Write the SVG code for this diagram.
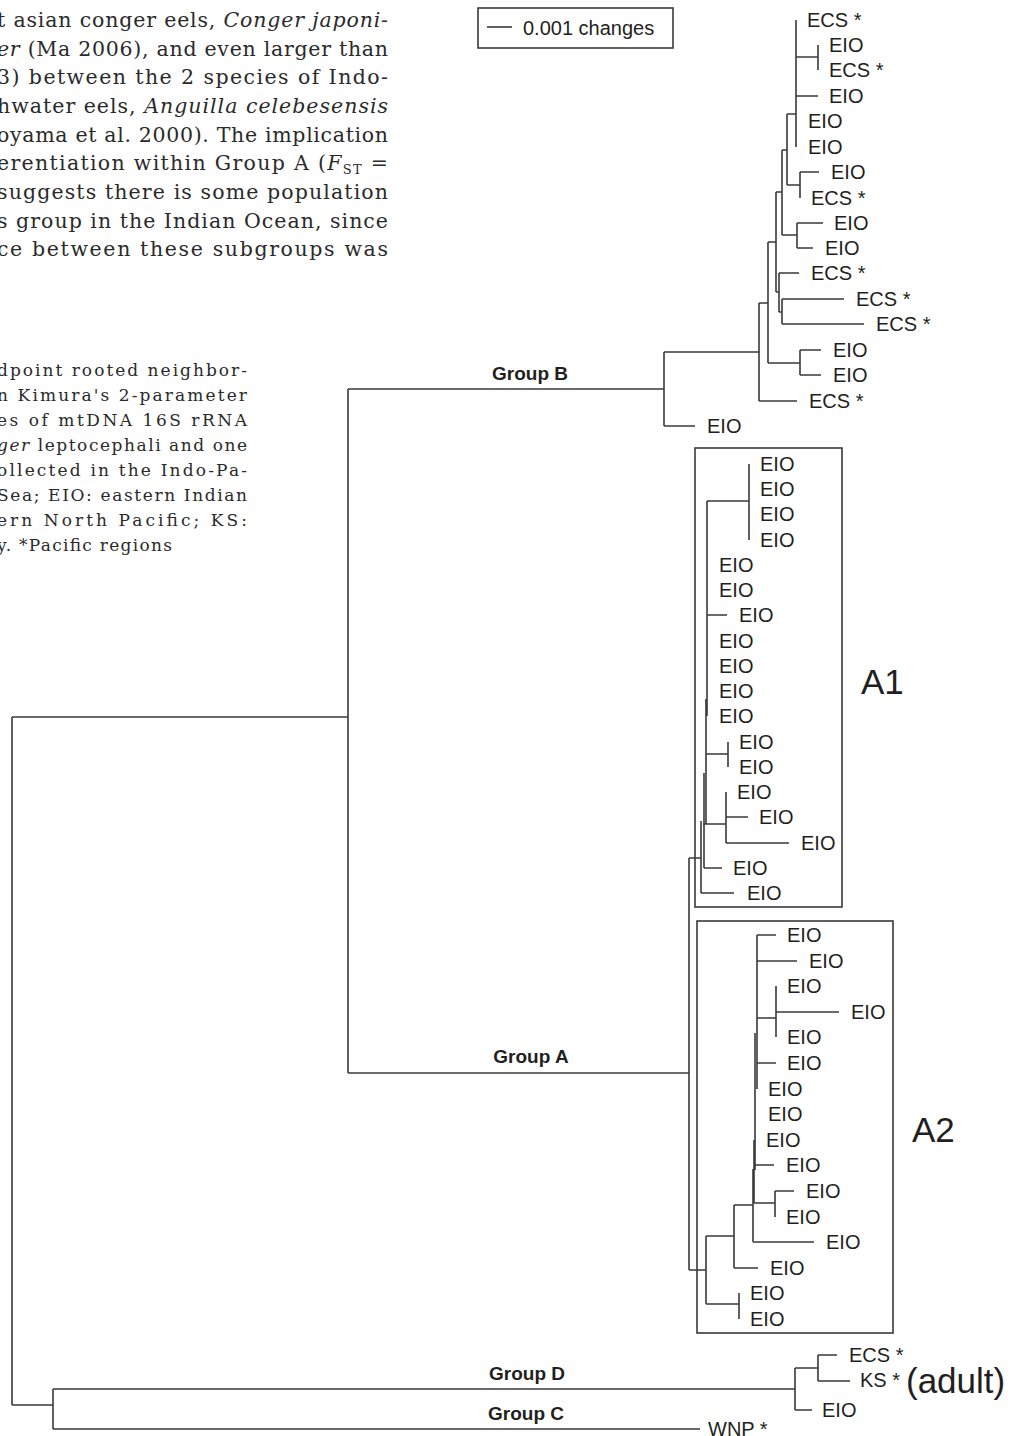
<svg xmlns="http://www.w3.org/2000/svg" width="1031" height="1436" viewBox="0 0 1031 1436">
<style>
.bg{fill:#fff}
.body{font-family:"DejaVu Serif","Liberation Serif",serif;font-size:20.5px;fill:#2a2a2a}
.cap{font-family:"DejaVu Serif","Liberation Serif",serif;font-size:17px;fill:#2a2a2a}
.it{font-style:italic}
.lb{font-family:"Liberation Sans",Arial,sans-serif;font-size:20px;fill:#231f20}
.big{font-family:"Liberation Sans",Arial,sans-serif;font-size:35px;fill:#231f20}
.grp{font-family:"Liberation Sans",Arial,sans-serif;font-size:19px;font-weight:bold;fill:#231f20;text-anchor:middle}
.ln{stroke:#3a3a3a;stroke-width:1.6;fill:none}
.box{stroke:#3a3a3a;stroke-width:1.6;fill:none}
</style>
<rect class="bg" x="0" y="0" width="1031" height="1436"/>

<g id="body-text">
<text class="body" x="-3" y="27" textLength="391" lengthAdjust="spacing">t asian conger eels, <tspan class="it">Conger japoni-</tspan></text>
<text class="body" x="-3" y="56" textLength="391" lengthAdjust="spacing"><tspan class="it">er</tspan> (Ma 2006), and even larger than</text>
<text class="body" x="-3" y="84" textLength="391" lengthAdjust="spacing">3) between the 2 species of Indo-</text>
<text class="body" x="-3" y="113" textLength="391" lengthAdjust="spacing">hwater eels, <tspan class="it">Anguilla celebesensis</tspan></text>
<text class="body" x="-3" y="142" textLength="391" lengthAdjust="spacing">oyama et al. 2000). The implication</text>
<text class="body" x="-3" y="170" textLength="391" lengthAdjust="spacing">erentiation within Group A (<tspan class="it">F</tspan><tspan font-size="13" dy="4">ST</tspan><tspan dy="-4"> =</tspan></text>
<text class="body" x="-3" y="199" textLength="391" lengthAdjust="spacing">suggests there is some population</text>
<text class="body" x="-3" y="228" textLength="391" lengthAdjust="spacing">s group in the Indian Ocean, since</text>
<text class="body" x="-3" y="256" textLength="391" lengthAdjust="spacing">ce between these subgroups was</text>
</g>

<g id="caption-text">
<text class="cap" x="-3" y="376" textLength="250" lengthAdjust="spacing">dpoint rooted neighbor-</text>
<text class="cap" x="-3" y="401" textLength="250" lengthAdjust="spacing">n Kimura's 2-parameter</text>
<text class="cap" x="-3" y="426" textLength="250" lengthAdjust="spacing">es of mtDNA 16S rRNA</text>
<text class="cap" x="-3" y="451" textLength="250" lengthAdjust="spacing"><tspan class="it">ger</tspan> leptocephali and one</text>
<text class="cap" x="-3" y="476" textLength="250" lengthAdjust="spacing">ollected in the Indo-Pa-</text>
<text class="cap" x="-3" y="501" textLength="250" lengthAdjust="spacing">Sea; EIO: eastern Indian</text>
<text class="cap" x="-3" y="526" textLength="250" lengthAdjust="spacing">ern North Pacific; KS:</text>
<text class="cap" x="-3" y="551" textLength="175" lengthAdjust="spacing">y. *Pacific regions</text>
</g>

<g id="legend">
<rect class="box" x="478" y="8" width="195" height="40"/>
<line class="ln" x1="487" y1="27" x2="512" y2="27"/>
<text class="lb" x="523" y="35" font-size="21">0.001 changes</text>
</g>

<g id="connectors">
<!-- Group B -->
<path class="ln" d="M796 20V147 M796 57H818 M818 45V70 M796 96H818
M787 114H796 M787 114V185 M787 185H800 M800 172V198 M800 172H819
M782 150H787 M782 150V235 M782 235H797 M797 223V248 M797 223H823 M797 248H813
M776 192H782 M776 192V292 M776 292H779 M779 273V312 M779 273H799
M779 312H782 M782 299V324 M782 299H844 M782 324H864
M768 242H776 M768 242V363 M768 363H800 M800 350V375 M800 350H821 M800 375H821
M759 303H768 M759 303V401 M759 401H797
M664 352H759 M664 352V426 M664 426H695
M348 389H664"/>
<!-- A1 -->
<path class="ln" d="M749 464V540 M707 501H749 M707 501V716 M707 615H727
M705 700H707 M706 700V824 M706 754H728 M728 742V767
M703 824H726 M726 792V843 M726 817H748 M726 843H789
M704 773V868 M704 868H722
M701 821V893 M701 893H734
M689 858H701"/>
<!-- A2 -->
<path class="ln" d="M757 935V1089 M757 935H776 M757 961H797 M757 1018H776 M776 986V1037 M776 1012H839 M757 1063H776
M755 1033V1170 M754 1140V1203 M754 1165H774 M754 1203H775 M775 1191V1217 M775 1191H794
M753 1169V1242 M753 1242H814
M734 1205H753 M734 1205V1268 M734 1268H758
M706 1236H734 M706 1236V1304 M706 1304H739 M739 1293V1319
M689 1270H706 M689 858V1270
M348 1073H689 M348 389V1073"/>
<!-- root, C, D -->
<path class="ln" d="M12 717H348 M12 717V1405 M12 1405H53 M53 1389V1429
M53 1389H795 M53 1429H700
M795 1368V1410 M795 1368H818 M818 1355V1381 M818 1355H837 M818 1381H850 M795 1410H812"/>
</g>

<g id="boxes">
<rect id="box-A1" class="box" x="695" y="448" width="147" height="459"/>
<rect id="box-A2" class="box" x="697" y="921" width="196" height="412"/>
</g>

<g id="group-labels">
<g id="lab-groupB"><text class="grp" x="530" y="380">Group B</text></g>
<g id="lab-groupA"><text class="grp" x="531" y="1063">Group A</text></g>
<g id="lab-groupD"><text class="grp" x="527" y="1380">Group D</text></g>
<g id="lab-groupC"><text class="grp" x="526" y="1420">Group C</text></g>
<g id="lab-A1"><text class="big" x="861" y="694">A1</text></g>
<g id="lab-A2"><text class="big" x="912" y="1142">A2</text></g>
</g>

<g id="leaves-B">
<g id="b1"><text class="lb" x="807" y="27">ECS *</text></g>
<g id="b2"><text class="lb" x="829" y="52">EIO</text></g>
<g id="b3"><text class="lb" x="829" y="77">ECS *</text></g>
<g id="b4"><text class="lb" x="829" y="103">EIO</text></g>
<g id="b5"><text class="lb" x="808" y="128">EIO</text></g>
<g id="b6"><text class="lb" x="808" y="154">EIO</text></g>
<g id="b7"><text class="lb" x="831" y="179">EIO</text></g>
<g id="b8"><text class="lb" x="811" y="205">ECS *</text></g>
<g id="b9"><text class="lb" x="834" y="230">EIO</text></g>
<g id="b10"><text class="lb" x="825" y="255">EIO</text></g>
<g id="b11"><text class="lb" x="811" y="280">ECS *</text></g>
<g id="b12"><text class="lb" x="856" y="306">ECS *</text></g>
<g id="b13"><text class="lb" x="876" y="331">ECS *</text></g>
<g id="b14"><text class="lb" x="833" y="357">EIO</text></g>
<g id="b15"><text class="lb" x="833" y="382">EIO</text></g>
<g id="b16"><text class="lb" x="809" y="408">ECS *</text></g>
<g id="b17"><text class="lb" x="707" y="433">EIO</text></g>
</g>

<g id="leaves-A1">
<g id="a1-1"><text class="lb" x="760" y="471">EIO</text></g>
<g id="a1-2"><text class="lb" x="760" y="496">EIO</text></g>
<g id="a1-3"><text class="lb" x="760" y="521">EIO</text></g>
<g id="a1-4"><text class="lb" x="760" y="547">EIO</text></g>
<g id="a1-5"><text class="lb" x="719" y="572">EIO</text></g>
<g id="a1-6"><text class="lb" x="719" y="597">EIO</text></g>
<g id="a1-7"><text class="lb" x="739" y="622">EIO</text></g>
<g id="a1-8"><text class="lb" x="719" y="648">EIO</text></g>
<g id="a1-9"><text class="lb" x="719" y="673">EIO</text></g>
<g id="a1-10"><text class="lb" x="719" y="698">EIO</text></g>
<g id="a1-11"><text class="lb" x="719" y="723">EIO</text></g>
<g id="a1-12"><text class="lb" x="739" y="749">EIO</text></g>
<g id="a1-13"><text class="lb" x="739" y="774">EIO</text></g>
<g id="a1-14"><text class="lb" x="737" y="799">EIO</text></g>
<g id="a1-15"><text class="lb" x="759" y="824">EIO</text></g>
<g id="a1-16"><text class="lb" x="801" y="850">EIO</text></g>
<g id="a1-17"><text class="lb" x="733" y="875">EIO</text></g>
<g id="a1-18"><text class="lb" x="747" y="900">EIO</text></g>
</g>

<g id="leaves-A2">
<g id="a2-1"><text class="lb" x="787" y="942">EIO</text></g>
<g id="a2-2"><text class="lb" x="809" y="968">EIO</text></g>
<g id="a2-3"><text class="lb" x="787" y="993">EIO</text></g>
<g id="a2-4"><text class="lb" x="851" y="1019">EIO</text></g>
<g id="a2-5"><text class="lb" x="787" y="1044">EIO</text></g>
<g id="a2-6"><text class="lb" x="787" y="1070">EIO</text></g>
<g id="a2-7"><text class="lb" x="768" y="1096">EIO</text></g>
<g id="a2-8"><text class="lb" x="768" y="1121">EIO</text></g>
<g id="a2-9"><text class="lb" x="766" y="1147">EIO</text></g>
<g id="a2-10"><text class="lb" x="786" y="1172">EIO</text></g>
<g id="a2-11"><text class="lb" x="806" y="1198">EIO</text></g>
<g id="a2-12"><text class="lb" x="786" y="1224">EIO</text></g>
<g id="a2-13"><text class="lb" x="826" y="1249">EIO</text></g>
<g id="a2-14"><text class="lb" x="770" y="1275">EIO</text></g>
<g id="a2-15"><text class="lb" x="750" y="1300">EIO</text></g>
<g id="a2-16"><text class="lb" x="750" y="1326">EIO</text></g>
</g>

<g id="leaves-CD">
<g id="d1"><text class="lb" x="849" y="1362">ECS *</text></g>
<g id="d2"><text class="lb" x="860" y="1387">KS *</text><text class="big" x="906" y="1393" font-size="40">(adult)</text></g>
<g id="d3"><text class="lb" x="822" y="1417">EIO</text></g>
<g id="c1"><text class="lb" x="708" y="1436">WNP *</text></g>
</g>
</svg>
